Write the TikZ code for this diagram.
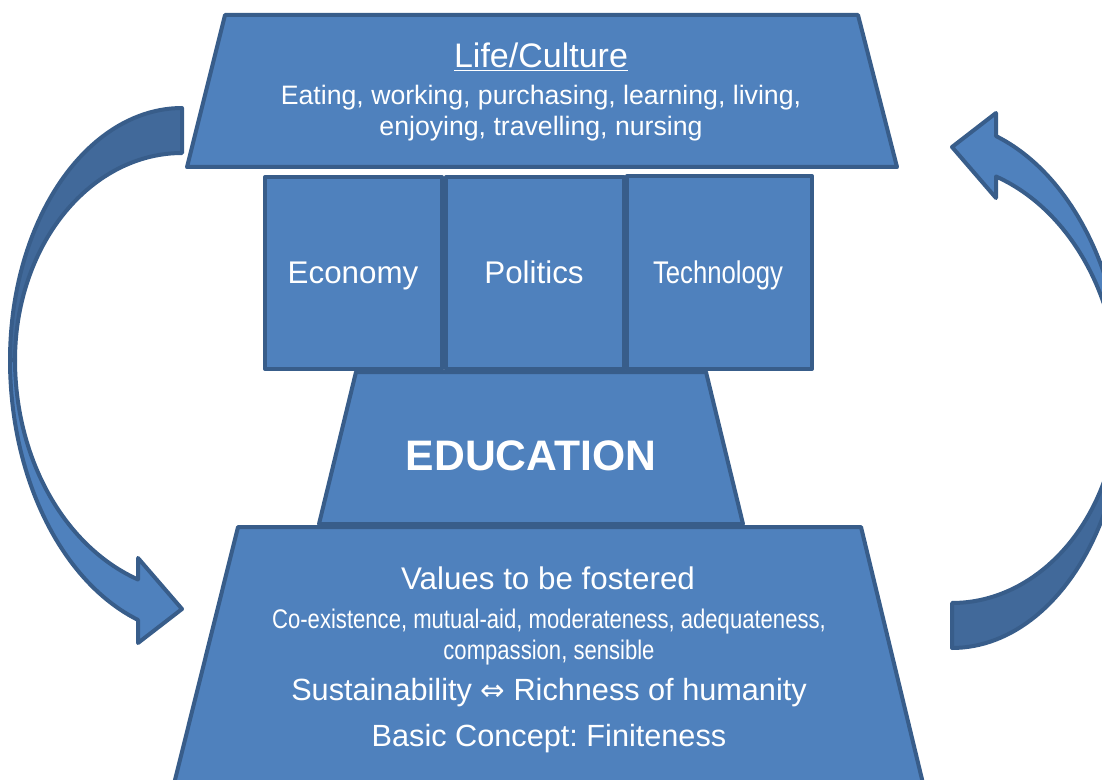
\documentclass[tikz,border=0pt]{standalone}
\usepackage{fontspec}
\setmainfont{Liberation Sans}
\newfontfamily\narrowfont[FakeStretch=0.82]{Liberation Sans}
\newfontfamily\symfont{DejaVu Sans}
\definecolor{fillblue}{HTML}{4F81BD}
\definecolor{edgeblue}{HTML}{385D8A}
\definecolor{backblue}{HTML}{41699A}
\frenchspacing
\newcommand\cyclearrow{%
  \filldraw[backband]
    plot[domain=270:180, samples=50, variable=\t] ({182+172*cos(\t)},{360+252*sin(\t)})
    -- plot[domain=180:270, samples=50, variable=\t] ({182+167*cos(\t)},{360+207*sin(\t)})
    -- cycle;
  \filldraw[frontband]
    plot[domain=180:109.04, samples=50, variable=\t] ({200+190*cos(\t)},{360+275*sin(\t)})
    -- (138,643) -- (182,609) -- (138,558)
    -- plot[domain=109.58:180, samples=50, variable=\t] ({200+185*cos(\t)},{360+233*sin(\t)})
    -- cycle;
}
\begin{document}
\begin{tikzpicture}[x=0.75pt,y=-0.75pt,
  blockshape/.style={fill=fillblue, draw=edgeblue, line width=3pt, line join=round},
  backband/.style={fill=backblue, draw=edgeblue, line width=3pt, line join=round},
  frontband/.style={fill=fillblue, draw=edgeblue, line width=3pt, line join=round},
  txt/.style={text=white, anchor=base, inner sep=0pt}]
\useasboundingbox (0,0) rectangle (1102,780);
\clip (0,0) rectangle (1102,780);
% curved arrows
\cyclearrow
\begin{scope}[rotate around={180:(567,378)}]
  \cyclearrow
\end{scope}
% top trapezoid
\draw[blockshape] (225,15) -- (858,15) -- (897,167) -- (187,167) -- cycle;
% boxes
\draw[blockshape] (265,177) rectangle (442,369);
\draw[blockshape] (446,177) rectangle (624,369);
\draw[blockshape] (627,176) rectangle (812,369);
% middle trapezoid
\draw[blockshape] (356,372) -- (706,372) -- (743,524) -- (319,524) -- cycle;
% bottom trapezoid
\draw[blockshape] (238,527) -- (861,527) -- (927,800) -- (170,800) -- cycle;
% texts
\node[txt, font=\fontsize{25.5}{30}\selectfont] (lc) at (541,68) {\underline{Life/Culture}};
\node[txt, font=\fontsize{20}{24}\selectfont] (lc1) at (541,105) {Eating, working, purchasing, learning, living,};
\node[txt, font=\fontsize{20}{24}\selectfont] (lc2) at (541,136) {enjoying, travelling, nursing};
\node[txt, font=\fontsize{23.5}{28}\selectfont] (eco) at (353,284) {Economy};
\node[txt, font=\fontsize{23.5}{28}\selectfont] (pol) at (534,284) {Politics};
\node[txt, font=\narrowfont\fontsize{23.5}{28}\selectfont] (tec) at (718,284) {Technology};
\node[txt, font=\bfseries\fontsize{32}{38}\selectfont] (edu) at (531,470) {EDUCATION};
\node[txt, font=\fontsize{23.5}{28}\selectfont] (val) at (548,589) {Values to be fostered};
\node[txt, font=\narrowfont\fontsize{20.2}{24}\selectfont] (v1) at (549,628) {Co-existence, mutual-aid, moderateness, adequateness,};
\node[txt, font=\narrowfont\fontsize{20.2}{24}\selectfont] (v2) at (549,659) {compassion, sensible};
\node[txt, font=\fontsize{23}{28}\selectfont] (sus) at (549,700) {Sustainability {\symfont\fontsize{22}{26}\selectfont ⇔} Richness of humanity};
\node[txt, font=\fontsize{23}{28}\selectfont] (bas) at (549,746) {Basic Concept: Finiteness};
\end{tikzpicture}
\end{document}
